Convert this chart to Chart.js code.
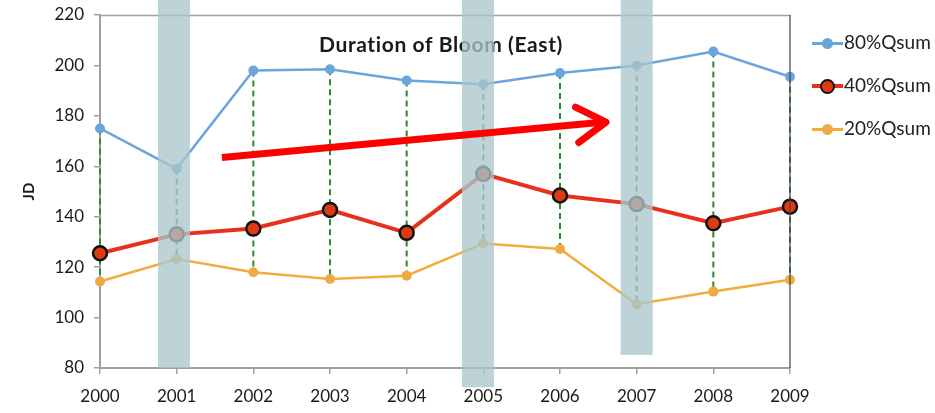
<!DOCTYPE html>
<html>
<head>
<meta charset="utf-8">
<script src="https://cdn.jsdelivr.net/npm/chart.js@4.4.1/dist/chart.umd.min.js"></script>
<style>
  html, body { margin: 0; padding: 0; background: #ffffff; }
  #wrap { position: relative; width: 935px; height: 413px; overflow: hidden; }
  #chart { position: absolute; left: 0; top: 0; }
  .lg { position: absolute; left: 812px; height: 20px; width: 123px; font-family: Lato, "Open Sans", sans-serif; font-size: 19px; color: #222; }
  .lg .ln { position: absolute; left: 0; width: 31px; }
  .lg .mk { position: absolute; border-radius: 50%; box-sizing: border-box; }
  .lg .tx { position: absolute; left: 32px; top: -3px; white-space: nowrap; }
</style>
</head>
<body>
<div id="wrap">
  <canvas id="chart" width="935" height="413"></canvas>
  <div class="lg" style="top:33px">
    <div class="ln" style="top:9px;height:3px;background:#6aa6dc"></div>
    <div class="mk" style="left:10px;top:5px;width:11px;height:11px;background:#6aa6dc"></div>
    <span class="tx">80%Qsum</span>
  </div>
  <div class="lg" style="top:76px">
    <div class="ln" style="top:8px;height:4px;background:#e8301a"></div>
    <div class="mk" style="left:8px;top:3px;width:15px;height:15px;background:#e03a14;border:2.5px solid #111"></div>
    <span class="tx">40%Qsum</span>
  </div>
  <div class="lg" style="top:119px">
    <div class="ln" style="top:9px;height:3px;background:#f0ad3c"></div>
    <div class="mk" style="left:10px;top:5px;width:11px;height:11px;background:#eeaa45"></div>
    <span class="tx">20%Qsum</span>
  </div>
</div>
<script>
// Bloom duration (JD) by year for three cumulative-discharge thresholds
const years = ['2000', '2001', '2002', '2003', '2004', '2005', '2006', '2007', '2008', '2009'];
const q80 = [175, 159, 198, 198.5, 194, 192.5, 197, 200, 205.5, 195.5];
const q40 = [125.5, 133, 135.3, 142.7, 133.6, 157, 148.4, 145, 137.4, 144];
const q20 = [114.3, 123.2, 118, 115.3, 116.6, 129.4, 127.2, 105.3, 110.3, 115];
const yTicks = [80, 100, 120, 140, 160, 180, 200, 220];

// Shaded columns over selected years: centre (year index) and lower end (JD)
const highlightCenters = [0.965, 4.93, 7.0];
const highlightBottoms = [80, 72.4, 85.2];
const highlightTop = 228;

// Trend arrow, from/to as [year index, JD]
const arrowFrom = [1.59, 163.5];
const arrowTo = [6.6, 177.5];

const chartTitle = 'Duration of Bloom (East)';
const FONT = 'Lato, "Open Sans", sans-serif';

const overlays = {
  id: 'overlays',
  beforeDatasetsDraw(chart) {
    const { ctx, scales: { x, y } } = chart;
    // drop lines between the high and low series
    ctx.save();
    ctx.strokeStyle = '#2a8a2e';
    ctx.lineWidth = 2;
    ctx.setLineDash([6, 4]);
    years.forEach((yr, i) => {
      const px = x.getPixelForValue(i);
      ctx.beginPath();
      ctx.moveTo(px, y.getPixelForValue(q80[i]));
      ctx.lineTo(px, y.getPixelForValue(q20[i]));
      ctx.stroke();
    });
    ctx.restore();
  },
  afterDatasetsDraw(chart) {
    const { ctx, scales: { x, y }, chartArea: a } = chart;
    ctx.save();
    // frame: top and right edges
    ctx.strokeStyle = '#a0a0a0';
    ctx.lineWidth = 1.5;
    ctx.beginPath();
    ctx.moveTo(a.left, a.top + 0.5);
    ctx.lineTo(a.right, a.top + 0.5);
    ctx.stroke();
    ctx.strokeStyle = '#444';
    ctx.lineWidth = 1.2;
    ctx.beginPath();
    ctx.moveTo(a.right, a.top);
    ctx.lineTo(a.right, a.bottom);
    ctx.stroke();

    // chart title inside the plot
    ctx.fillStyle = '#1a1a1a';
    ctx.font = 'bold 21px ' + FONT;
    ctx.letterSpacing = '0.6px';
    ctx.textAlign = 'center';
    ctx.textBaseline = 'middle';
    ctx.fillText(chartTitle, 441, 45);
    ctx.letterSpacing = '0px';

    // shaded year columns
    ctx.fillStyle = 'rgba(170,198,205,0.78)';
    highlightCenters.forEach((c, k) => {
      const cx = x.getPixelForValue(c);
      const top = y.getPixelForValue(highlightTop);
      const bot = y.getPixelForValue(highlightBottoms[k]);
      ctx.fillRect(cx - 16, top, 32, bot - top);
    });

    // trend arrow
    const x0 = x.getPixelForValue(arrowFrom[0]), y0 = y.getPixelForValue(arrowFrom[1]);
    const x1 = x.getPixelForValue(arrowTo[0]), y1 = y.getPixelForValue(arrowTo[1]);
    ctx.strokeStyle = '#ff0000';
    ctx.lineWidth = 7;
    ctx.lineCap = 'butt';
    ctx.beginPath();
    ctx.moveTo(x0, y0);
    ctx.lineTo(x1 - 4, y1);
    ctx.stroke();
    const ang = Math.atan2(y1 - y0, x1 - x0);
    const len = 34, spread = 0.55;
    ctx.lineCap = 'round';
    ctx.lineJoin = 'round';
    ctx.beginPath();
    ctx.moveTo(x1 - len * Math.cos(ang - spread), y1 - len * Math.sin(ang - spread));
    ctx.lineTo(x1, y1);
    ctx.lineTo(x1 - len * Math.cos(ang + spread), y1 - len * Math.sin(ang + spread));
    ctx.stroke();
    ctx.restore();
  }
};

new Chart(document.getElementById('chart'), {
  type: 'line',
  data: {
    labels: years,
    datasets: [
      {
        label: '80%Qsum', data: q80,
        borderColor: '#6aa6dc', backgroundColor: '#6aa6dc', borderWidth: 2.5,
        pointRadius: 5, pointBorderWidth: 0, pointBackgroundColor: '#6aa6dc', tension: 0
      },
      {
        label: '40%Qsum', data: q40,
        borderColor: '#e8301a', backgroundColor: '#e03a14', borderWidth: 4,
        pointRadius: 7, pointBorderWidth: 2.5, pointBorderColor: '#111', pointBackgroundColor: '#e03a14', tension: 0
      },
      {
        label: '20%Qsum', data: q20,
        borderColor: '#f0ad3c', backgroundColor: '#eeaa45', borderWidth: 2.5,
        pointRadius: 5, pointBorderWidth: 0, pointBackgroundColor: '#eeaa45', tension: 0
      }
    ]
  },
  options: {
    responsive: false,
    animation: false,
    layout: { padding: { top: 15, right: 145, left: 0, bottom: 0 } },
    plugins: { legend: { display: false }, title: { display: false }, tooltip: { enabled: false } },
    scales: {
      x: {
        type: 'category',
        offset: false,
        grid: { display: true, drawOnChartArea: false, color: '#a0a0a0', tickLength: 6, lineWidth: 1.5 },
        border: { display: true, color: '#a0a0a0', width: 2 },
        ticks: { color: '#1a1a1a', font: { family: FONT, size: 17 }, padding: 12, maxRotation: 0, autoSkip: false },
        afterFit(s) { s.height = 45; }
      },
      y: {
        min: 80, max: 220,
        afterBuildTicks(s) { s.ticks = yTicks.map(v => ({ value: v })); },
        grid: { display: true, drawOnChartArea: false, color: '#a0a0a0', tickLength: 6, lineWidth: 1.5 },
        border: { display: true, color: '#a0a0a0', width: 2 },
        ticks: { color: '#1a1a1a', font: { family: FONT, size: 17 }, padding: 10 },
        title: { display: true, text: 'JD', color: '#1a1a1a', font: { family: FONT, size: 15, weight: 'bold' }, padding: { top: 20, bottom: 0 } },
        afterFit(s) { s.width = 100; s.paddingTop = 0; s.paddingBottom = 0; }
      }
    }
  },
  plugins: [overlays]
});
</script>
</body>
</html>
